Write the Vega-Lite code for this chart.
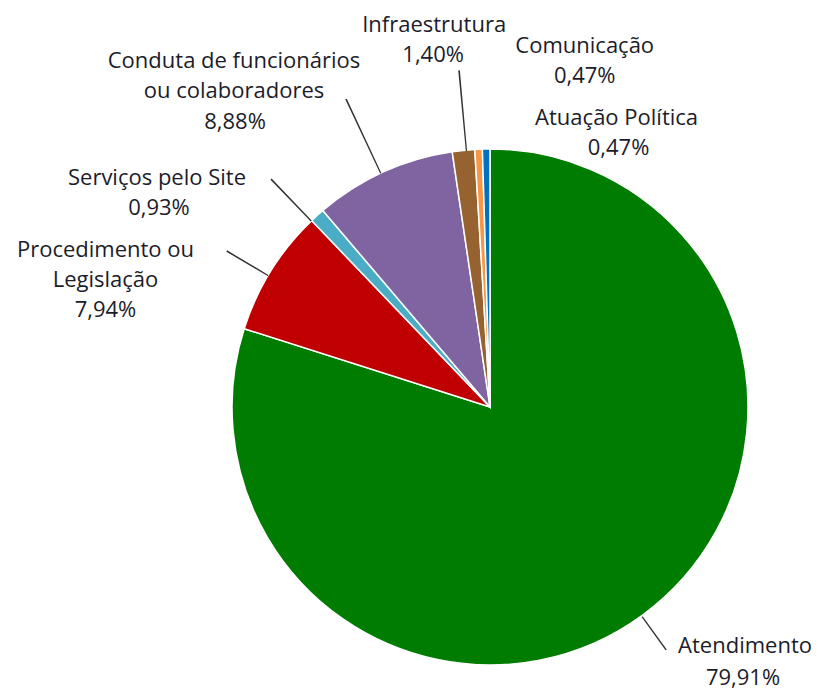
{
  "$schema": "https://vega.github.io/schema/vega-lite/v6.json",
  "width": 516,
  "height": 516,
  "autosize": {"type": "none"},
  "padding": {"left": 232, "top": 149, "right": 70, "bottom": 25},
  "background": "white",
  "config": {
    "view": {"stroke": null},
    "locale": {"number": {"decimal": ",", "thousands": ".", "grouping": [3], "currency": ["R$", ""]}},
    "text": {"font": "Open Sans", "fontSize": 22, "fill": "#1c1c2a", "align": "center", "baseline": "alphabetic", "lineHeight": 30, "lineBreak": "\n"}
  },
  "data": {
    "values": [
      {"rank": 1, "cat": "Atendimento", "value": 0.7991},
      {"rank": 2, "cat": "Procedimento ou\nLegislação", "value": 0.0794},
      {"rank": 3, "cat": "Serviços pelo Site", "value": 0.0093},
      {"rank": 4, "cat": "Conduta de funcionários\nou colaboradores", "value": 0.0888},
      {"rank": 5, "cat": "Infraestrutura", "value": 0.0140},
      {"rank": 6, "cat": "Comunicação", "value": 0.0047},
      {"rank": 7, "cat": "Atuação Política", "value": 0.0047}
    ]
  },
  "encoding": {
    "theta": {"field": "value", "type": "quantitative", "stack": true, "scale": {"domain": [0, 1]}},
    "order": {"field": "rank", "type": "quantitative"}
  },
  "layer": [
    {
      "mark": {"type": "arc", "stroke": "white", "strokeWidth": 1.5},
      "encoding": {
        "color": {
          "field": "rank", "type": "nominal", "legend": null,
          "scale": {"domain": [1, 2, 3, 4, 5, 6, 7], "range": ["#007D00", "#C00000", "#4BACC6", "#8064A2", "#966230", "#F79646", "#0070C0"]}
        }
      }
    },
    {
      "transform": [{"stack": "value", "groupby": [], "sort": [{"field": "rank"}], "as": ["v0", "v1"]}, {"filter": "datum.rank === 1"}],
      "mark": {"type": "arc", "radius": 300, "radius2": 259, "thetaOffset": 2.5115, "theta2Offset": -2.5044, "fill": "#333333"},
      "encoding": {"theta": {"field": "v0", "type": "quantitative"}, "theta2": {"field": "v1"}}
    },
    {
      "transform": [{"stack": "value", "groupby": [], "sort": [{"field": "rank"}], "as": ["v0", "v1"]}, {"filter": "datum.rank === 2"}],
      "mark": {"type": "arc", "radius": 306, "radius2": 258, "thetaOffset": 0.2238, "theta2Offset": -0.2700, "fill": "#333333"},
      "encoding": {"theta": {"field": "v0", "type": "quantitative"}, "theta2": {"field": "v1"}}
    },
    {
      "transform": [{"stack": "value", "groupby": [], "sort": [{"field": "rank"}], "as": ["v0", "v1"]}, {"filter": "datum.rank === 3"}],
      "mark": {"type": "arc", "radius": 316, "radius2": 258, "thetaOffset": -0.0046, "theta2Offset": -0.0580, "fill": "#333333"},
      "encoding": {"theta": {"field": "v0", "type": "quantitative"}, "theta2": {"field": "v1"}}
    },
    {
      "transform": [{"stack": "value", "groupby": [], "sort": [{"field": "rank"}], "as": ["v0", "v1"]}, {"filter": "datum.rank === 4"}],
      "mark": {"type": "arc", "radius": 340, "radius2": 258, "thetaOffset": 0.2652, "theta2Offset": -0.2878, "fill": "#333333"},
      "encoding": {"theta": {"field": "v0", "type": "quantitative"}, "theta2": {"field": "v1"}}
    },
    {
      "transform": [{"stack": "value", "groupby": [], "sort": [{"field": "rank"}], "as": ["v0", "v1"]}, {"filter": "datum.rank === 5"}],
      "mark": {"type": "arc", "radius": 338, "radius2": 257, "thetaOffset": 0.0529, "theta2Offset": -0.0302, "fill": "#333333"},
      "encoding": {"theta": {"field": "v0", "type": "quantitative"}, "theta2": {"field": "v1"}}
    },
    {"mark": {"type": "text", "radius": 300, "dx": 78, "dy": 4}, "encoding": {"text": {"condition": {"test": "datum.rank === 1", "field": "cat"}, "value": ""}}},
    {"mark": {"type": "text", "radius": 300, "dx": -130, "dy": 9}, "encoding": {"text": {"condition": {"test": "datum.rank === 2", "field": "cat"}, "value": ""}}},
    {"mark": {"type": "text", "radius": 300, "dx": -132, "dy": 1}, "encoding": {"text": {"condition": {"test": "datum.rank === 3", "field": "cat"}, "value": ""}}},
    {"mark": {"type": "text", "radius": 300, "dx": -132, "dy": -66}, "encoding": {"text": {"condition": {"test": "datum.rank === 4", "field": "cat"}, "value": ""}}},
    {"mark": {"type": "text", "radius": 300, "dx": -25, "dy": -77}, "encoding": {"text": {"condition": {"test": "datum.rank === 5", "field": "cat"}, "value": ""}}},
    {"mark": {"type": "text", "radius": 300, "dx": 108, "dy": -54}, "encoding": {"text": {"condition": {"test": "datum.rank === 6", "field": "cat"}, "value": ""}}},
    {"mark": {"type": "text", "radius": 300, "dx": 131, "dy": 18}, "encoding": {"text": {"condition": {"test": "datum.rank === 7", "field": "cat"}, "value": ""}}},
    {"mark": {"type": "text", "radius": 300, "dx": 76, "dy": 36}, "encoding": {"text": {"condition": {"test": "datum.rank === 1", "field": "value", "type": "quantitative", "format": ".2%"}, "value": ""}}},
    {"mark": {"type": "text", "radius": 300, "dx": -130, "dy": 69}, "encoding": {"text": {"condition": {"test": "datum.rank === 2", "field": "value", "type": "quantitative", "format": ".2%"}, "value": ""}}},
    {"mark": {"type": "text", "radius": 300, "dx": -130, "dy": 31}, "encoding": {"text": {"condition": {"test": "datum.rank === 3", "field": "value", "type": "quantitative", "format": ".2%"}, "value": ""}}},
    {"mark": {"type": "text", "radius": 300, "dx": -131, "dy": -5}, "encoding": {"text": {"condition": {"test": "datum.rank === 4", "field": "value", "type": "quantitative", "format": ".2%"}, "value": ""}}},
    {"mark": {"type": "text", "radius": 300, "dx": -26, "dy": -47}, "encoding": {"text": {"condition": {"test": "datum.rank === 5", "field": "value", "type": "quantitative", "format": ".2%"}, "value": ""}}},
    {"mark": {"type": "text", "radius": 300, "dx": 108, "dy": -24}, "encoding": {"text": {"condition": {"test": "datum.rank === 6", "field": "value", "type": "quantitative", "format": ".2%"}, "value": ""}}},
    {"mark": {"type": "text", "radius": 300, "dx": 133, "dy": 48}, "encoding": {"text": {"condition": {"test": "datum.rank === 7", "field": "value", "type": "quantitative", "format": ".2%"}, "value": ""}}}
  ]
}
